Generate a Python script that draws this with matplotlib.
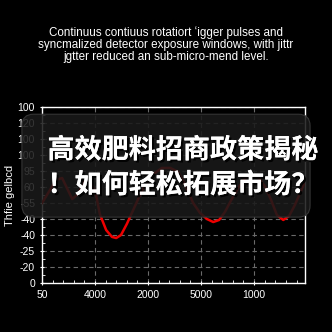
import matplotlib
matplotlib.use('Agg')
import matplotlib.pyplot as plt
import matplotlib.patheffects as pe
from matplotlib.patches import FancyBboxPatch
from matplotlib.ticker import AutoMinorLocator

# data
title = ("Continuus contiuus rotatiort ʻigger pulses and\n"
         "syncmalized detector exposure windows, with jittr\n"
         "jgtter reduced an sub-micro-mend level.")
ylabel = "Thfie gelbcd"
xtick_labels = ['50', '4000', '2000', '5000', '1000']
ytick_labels = ['0', '-20', '-25', '-40', '-40', '-55', '60', '95', '100', '100', '120', '100']
overlay_lines = ["高效肥料招商政策揭秘", "！如何轻松拓展市场？"]

curve_x = [0.00, 0.15, 0.26, 0.38, 0.47, 0.57, 0.68, 0.79, 0.91, 1.02, 1.09, 1.21,
           1.32, 1.40, 1.49, 1.60, 1.72, 1.89, 2.08, 2.26, 2.42, 2.57, 2.72, 2.85,
           2.98, 3.11, 3.23, 3.34, 3.45, 3.57, 3.70, 3.83, 3.96, 4.09, 4.21, 4.32,
           4.43, 4.55, 4.66, 4.77, 4.91, 4.96]
curve_y = [5.00, 5.81, 6.44, 6.56, 5.94, 5.25, 5.56, 6.31, 6.44, 5.50, 4.31, 3.31,
           2.88, 2.81, 3.00, 3.69, 4.56, 5.81, 6.75, 7.19, 7.19, 6.94, 6.00, 5.00,
           4.38, 4.00, 3.81, 3.94, 4.44, 5.19, 5.94, 6.56, 6.75, 6.56, 6.00, 5.19,
           4.25, 3.94, 4.19, 4.88, 5.94, 6.31]

plt.rcParams['font.family'] = ['Liberation Sans', 'DejaVu Sans']

fig = plt.figure(figsize=(3.32, 3.32), dpi=100, facecolor='black')
ax = fig.add_axes([0.1265, 0.1476, 0.7922, 0.5301], facecolor='black')

ax.plot(curve_x, curve_y, color='#ee0000', lw=1.8, zorder=3)

ax.set_xlim(0, 4.96)
ax.set_ylim(0, 11)
ax.set_xticks(range(len(xtick_labels)))
ax.set_xticklabels(xtick_labels)
ax.set_yticks(range(len(ytick_labels)))
ax.set_yticklabels(ytick_labels)
ax.xaxis.set_minor_locator(AutoMinorLocator(5))
ax.yaxis.set_minor_locator(AutoMinorLocator(2))

ax.tick_params(colors='white', labelsize=7.5, width=0.8, length=3, direction='inout')
ax.tick_params(which='minor', colors='white', width=0.6, length=2, direction='in')
for s in ax.spines.values():
    s.set_color('white')
    s.set_linewidth(1.0)

ax.grid(True, color='#6a6a6a', linestyle='--', linewidth=0.8, dashes=(4, 3))
ax.set_ylabel(ylabel, color='white', fontsize=8, labelpad=2)

fig.text(0.5, 0.867, title, color='white', fontsize=8.4, ha='center', va='center',
         linespacing=1.0)

# translucent overlay card with the headline
box = FancyBboxPatch((0.066, 0.346), 0.868, 0.31, transform=fig.transFigure,
                     boxstyle='round,pad=0,rounding_size=0.035',
                     facecolor='#1a1a1a', edgecolor='#3a3a3a', linewidth=0.8,
                     alpha=0.88, zorder=5)
fig.patches.append(box)

shadow = [pe.withSimplePatchShadow(offset=(1.5, -1.5), shadow_rgbFace='black', alpha=0.9),
          pe.Normal()]
for i, line in enumerate(overlay_lines):
    fig.text(0.143, 0.548 - i * 0.105, line, color='white', fontsize=19.5,
             fontweight='bold', family=['Noto Sans CJK SC', 'DejaVu Sans'],
             ha='left', va='center', zorder=6, path_effects=shadow)

fig.savefig('out.png', dpi=100, facecolor='black')
